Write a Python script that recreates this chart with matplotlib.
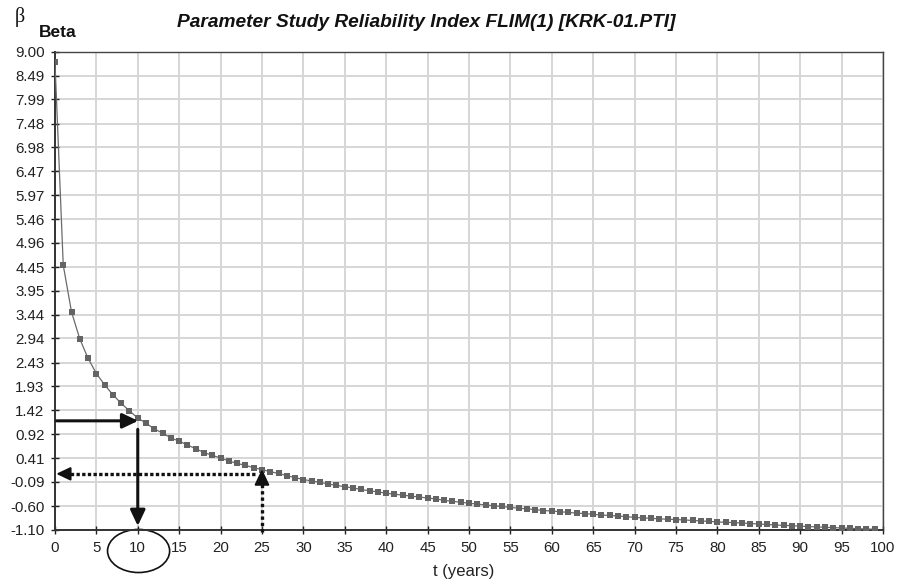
import matplotlib
matplotlib.use("Agg")
import matplotlib.pyplot as plt
from matplotlib.patches import Ellipse

# Reliability index beta over service time (years)
years = list(range(0, 100))
beta = [
    8.78, 4.49, 3.50, 2.93, 2.52, 2.20, 1.96, 1.75, 1.57, 1.41,
    1.26, 1.15, 1.03, 0.94, 0.84, 0.77, 0.69, 0.61, 0.53, 0.47,
    0.415, 0.35, 0.30, 0.26, 0.21, 0.17, 0.125, 0.09, 0.04, 0.00,
    -0.04, -0.07, -0.10, -0.135, -0.165, -0.19, -0.22, -0.25, -0.28, -0.30,
    -0.33, -0.35, -0.37, -0.39, -0.41, -0.43, -0.45, -0.48, -0.50, -0.52,
    -0.54, -0.56, -0.575, -0.595, -0.61, -0.63, -0.645, -0.66, -0.675, -0.695,
    -0.705, -0.72, -0.735, -0.75, -0.76, -0.775, -0.79, -0.80, -0.81, -0.825,
    -0.84, -0.85, -0.86, -0.87, -0.88, -0.885, -0.895, -0.905, -0.915, -0.925,
    -0.935, -0.945, -0.95, -0.96, -0.97, -0.98, -0.99, -1.00, -1.01, -1.015,
    -1.025, -1.035, -1.04, -1.05, -1.055, -1.065, -1.07, -1.08, -1.085, -1.09,
]
y_ticks = [-1.10, -0.60, -0.09, 0.41, 0.92, 1.42, 1.93, 2.43, 2.94, 3.44, 3.95,
           4.45, 4.96, 5.46, 5.97, 6.47, 6.98, 7.48, 7.99, 8.49, 9.00]
x_ticks = list(range(0, 101, 5))

# reading guides: beta at 10 years, and the 25-year point
read_t10_beta = 1.20
read_t10_from, read_t10_to = 1.02, -1.02
read_t25 = 25
read_t25_beta_line = 0.08
read_t25_tip = 0.18

plt.rcParams["font.family"] = ["Liberation Sans", "DejaVu Sans"]

fig = plt.figure(figsize=(9.07, 5.84), dpi=100)
ax = fig.add_axes([0.0606, 0.093, 0.9129, 0.8185])

ax.set_xlim(0, 100)
ax.set_ylim(-1.10, 9.00)
ax.set_xticks(x_ticks)
ax.set_yticks(y_ticks)
ax.set_yticklabels([f"{v:.2f}" for v in y_ticks])
ax.tick_params(axis="both", direction="inout", length=6, width=1.0,
               labelsize=10.8, colors="#222222")
ax.tick_params(axis="x", pad=5.5)
ax.tick_params(axis="y", pad=4.5)
ax.grid(True, color="#d6d6d6", linewidth=1.4)
ax.set_axisbelow(True)
for side in ("left", "bottom"):
    ax.spines[side].set_color("#333333")
    ax.spines[side].set_linewidth(1.4)
for side in ("top", "right"):
    ax.spines[side].set_color("#444444")
    ax.spines[side].set_linewidth(1.0)

ax.plot(years, beta, color="#6a6a6a", linewidth=0.9, marker="s",
        markersize=4.2, markerfacecolor="#646464", markeredgewidth=0,
        zorder=3)

head = "-|>,head_length=0.95,head_width=0.45"

# solid guide: beta -> t = 10
ax.annotate("", xy=(10.05, read_t10_beta), xytext=(0.2, read_t10_beta),
            arrowprops=dict(arrowstyle=head, mutation_scale=10, lw=2.2,
                            color="#111111", shrinkA=0, shrinkB=0), zorder=5)
ax.annotate("", xy=(10, read_t10_to), xytext=(10, read_t10_from),
            arrowprops=dict(arrowstyle=head, mutation_scale=10, lw=2.2,
                            color="#111111", shrinkA=0, shrinkB=0), zorder=5)

# dotted guide: t = 25 -> beta
ax.plot([read_t25, read_t25], [-1.15, read_t25_tip - 0.2], color="#111111",
        linewidth=2.4, linestyle=(0, (1, 0.9)), dash_capstyle="butt",
        clip_on=False, zorder=5)
ax.annotate("", xy=(read_t25, read_t25_tip), xytext=(read_t25, read_t25_tip - 0.15),
            arrowprops=dict(arrowstyle=head, mutation_scale=10, lw=1.5,
                            color="#111111", shrinkA=0, shrinkB=0), zorder=5)
ax.plot([read_t25 - 0.8, 1.2], [read_t25_beta_line, read_t25_beta_line],
        color="#111111", linewidth=2.4, linestyle=(0, (1, 0.7)),
        dash_capstyle="butt", zorder=5)
ax.annotate("", xy=(0.15, read_t25_beta_line), xytext=(1.5, read_t25_beta_line),
            arrowprops=dict(arrowstyle=head, mutation_scale=9, lw=1.5,
                            color="#111111", shrinkA=0, shrinkB=0), zorder=5)

# circle around the 10-year tick label
ax.add_patch(Ellipse((10.1, -1.55), width=7.5, height=0.91, fill=False,
                     edgecolor="#111111", linewidth=1.2, clip_on=False))

fig.text(0.4695, 0.953, "Parameter Study Reliability Index FLIM(1) [KRK-01.PTI]",
         ha="center", va="baseline", fontsize=13.8, fontweight="bold",
         fontstyle="italic", color="#111111")
fig.text(0.016, 0.963, "β", ha="left", va="baseline", fontsize=14.5,
         family=["Liberation Serif", "DejaVu Serif"], color="#111111")
fig.text(0.043, 0.937, "Beta", ha="left", va="baseline", fontsize=12.5,
         fontweight="bold", color="#111111")
fig.text(0.511, 0.014, "t (years)", ha="center", va="baseline", fontsize=12,
         color="#222222")

fig.savefig("out.png", dpi=100)
